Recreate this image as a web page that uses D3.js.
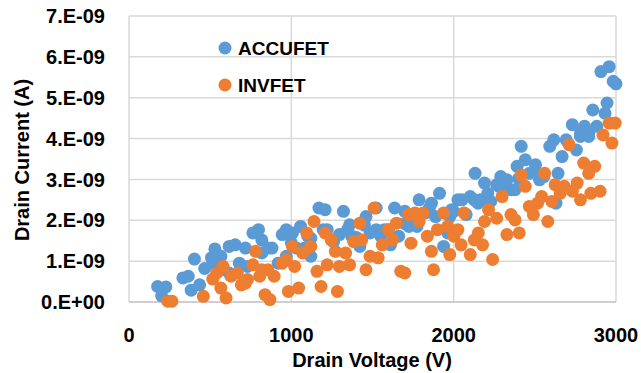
<!DOCTYPE html>
<html><head><meta charset="utf-8">
<script src="https://cdn.jsdelivr.net/npm/d3@7"></script>
<style>body{margin:0;background:#fff}svg{display:block}</style>
</head><body>
<script>
const accuX = [176,227,201,332,365,383,403,435,466,508,529,566,579,617,654,680,717,730,763,798,818,856,881,919,944,969,1007,1032,1057,1082,1120,1170,1208,1221,1246,1296,1321,1359,1372,1422,1460,1485,1523,1573,1611,1636,1661,1699,1724,1749,1787,1825,1863,1888,1913,1938,1963,1988,2026,2051,2077,2102,2132,2165,2190,2228,2265,2290,2328,2353,2391,2416,2441,2466,2504,2529,2555,2592,2617,2643,2668,2693,2731,2756,2781,2806,2832,2857,2882,2907,2932,2945,2958,2983,3000,516,617,818,969,1120,1196,1346,1523,1598,1774,1976,2127,2278,2378,2491,2630,2781,2832,1000,1100,1260,1400,1450,1550,1700,1850,2000,2150,2210,2310,2400];
const accuY = [0.38,0.37,0.15,0.59,0.63,0.29,1.05,0.42,0.82,1.08,1.30,1.12,0.79,1.36,1.40,0.95,1.32,0.87,1.69,1.77,1.52,1.32,1.32,0.95,1.65,1.77,1.69,1.32,1.85,1.32,1.56,2.30,2.26,1.77,1.52,1.65,2.22,1.89,1.61,1.36,2.09,1.69,2.30,1.77,1.40,2.30,1.61,2.22,1.85,2.01,2.50,2.18,2.42,2.09,2.66,1.36,1.69,2.26,2.50,2.50,2.14,2.58,3.15,2.50,2.91,2.46,2.87,3.07,2.99,2.75,3.32,3.81,3.48,3.15,3.36,2.99,3.07,3.81,3.97,3.15,3.56,3.97,4.34,3.72,4.13,4.30,4.05,4.70,4.30,5.64,4.62,4.87,5.76,5.40,5.34,0.95,0.71,1.20,1.12,1.12,1.77,1.77,1.77,1.77,1.85,2.09,2.50,2.83,2.75,3.19,2.42,4.05,4.13,1.45,1.62,1.48,1.58,1.88,1.62,1.92,2.30,2.22,2.42,2.66,2.80,3.02];
const invX = [239,264,458,516,541,579,566,598,629,667,692,730,763,780,805,838,868,856,894,944,982,1007,1020,1045,1070,1095,1120,1140,1158,1183,1208,1221,1246,1271,1284,1296,1334,1359,1384,1422,1434,1460,1485,1510,1535,1560,1598,1623,1648,1674,1699,1724,1737,1762,1787,1812,1838,1863,1876,1900,1938,1963,1976,2001,2026,2046,2064,2102,2127,2152,2178,2190,2215,2240,2265,2298,2328,2353,2378,2404,2416,2441,2466,2491,2517,2542,2560,2580,2605,2625,2656,2681,2711,2731,2761,2781,2801,2832,2845,2869,2902,2920,2958,2975,2995,717,818,969];
const invY = [0.02,0.02,0.14,0.56,0.71,0.87,0.34,0.10,0.63,0.71,0.42,0.55,0.91,1.24,0.63,0.18,0.06,0.79,0.63,0.95,0.26,1.36,0.87,0.34,1.20,1.69,1.36,1.97,0.75,0.38,1.69,0.91,1.52,1.24,0.26,0.87,1.20,0.91,1.48,1.93,1.52,0.79,1.12,2.30,1.08,1.40,1.77,1.52,1.93,0.75,0.71,2.14,1.44,2.18,1.97,2.18,1.61,1.24,0.79,1.77,2.18,1.85,1.16,1.61,1.77,1.40,2.18,1.16,1.52,1.69,1.40,1.97,2.26,1.04,2.05,2.58,1.65,2.14,2.01,1.69,3.11,2.83,2.34,2.14,2.42,2.58,3.15,1.97,2.46,2.87,2.66,2.83,3.85,2.71,2.91,2.50,3.40,3.15,2.66,3.32,2.71,4.09,4.38,3.89,4.38,0.46,0.79,1.04];
const yTicks = [0,1,2,3,4,5,6,7];
const yTickLabels = ["0.E+00","1.E-09","2.E-09","3.E-09","4.E-09","5.E-09","6.E-09","7.E-09"];
const xTicks = [0,1000,2000,3000];
const seriesNames = ["ACCUFET","INVFET"];
const colors = ["#5B9BD5","#ED7D31"];

const W = 641, H = 373;
const svg = d3.select("body").append("svg").attr("width", W).attr("height", H);
const x = d3.scaleLinear().domain([0,3000]).range([129,616]);
const y = d3.scaleLinear().domain([0,7e-9]).range([302,16]);
const font = "'Liberation Sans', Arial, sans-serif";

// gridlines
svg.append("g").selectAll("line").data(yTicks.slice(1)).join("line")
  .attr("x1", x(0)).attr("x2", x(3000))
  .attr("y1", d => y(d*1e-9)).attr("y2", d => y(d*1e-9))
  .attr("stroke", "#d9d9d9").attr("stroke-width", 1.5);
svg.append("g").selectAll("line").data(xTicks).join("line")
  .attr("x1", d => x(d)).attr("x2", d => x(d))
  .attr("y1", y(0)).attr("y2", y(7e-9))
  .attr("stroke", "#d9d9d9").attr("stroke-width", 1.5);
svg.append("line").attr("x1", x(0)).attr("x2", x(3000)).attr("y1", y(0)).attr("y2", y(0))
  .attr("stroke", "#bfbfbf").attr("stroke-width", 1.5);

// tick labels
svg.append("g").selectAll("text").data(yTicks).join("text")
  .attr("x", 105).attr("y", d => y(d*1e-9)).attr("dy", "0.36em")
  .attr("text-anchor", "end").attr("font-family", font).attr("font-weight", "bold")
  .attr("font-size", 20).attr("fill", "#000")
  .text((d,i) => yTickLabels[i]);
svg.append("g").selectAll("text").data(xTicks).join("text")
  .attr("x", d => x(d)).attr("y", 342)
  .attr("text-anchor", "middle").attr("font-family", font).attr("font-weight", "bold")
  .attr("font-size", 20).attr("fill", "#000")
  .text(d => d);

// axis titles
svg.append("text").attr("x", 372).attr("y", 367).attr("text-anchor", "middle")
  .attr("font-family", font).attr("font-weight", "bold").attr("font-size", 20).text("Drain Voltage (V)");
svg.append("text").attr("transform", "translate(29,160) rotate(-90)").attr("text-anchor", "middle")
  .attr("font-family", font).attr("font-weight", "bold").attr("font-size", 20).text("Drain Current (A)");

// points
const series = [
  accuX.map((v,i) => ({x:v, y:accuY[i]*1e-9})),
  invX.map((v,i) => ({x:v, y:invY[i]*1e-9}))
];
series.forEach((s, k) => {
  svg.append("g").selectAll("circle").data(s).join("circle")
    .attr("cx", d => x(d.x)).attr("cy", d => y(d.y)).attr("r", 6.5)
    .attr("fill", colors[k]);
});

// legend
const lg = svg.append("g");
seriesNames.forEach((n, k) => {
  const ly = [48, 85][k];
  lg.append("circle").attr("cx", 225).attr("cy", ly).attr("r", 6.5).attr("fill", colors[k]);
  lg.append("text").attr("x", 238).attr("y", ly + 7).attr("font-family", font)
    .attr("font-weight", "bold").attr("font-size", 19).text(n);
});
</script>
</body></html>
